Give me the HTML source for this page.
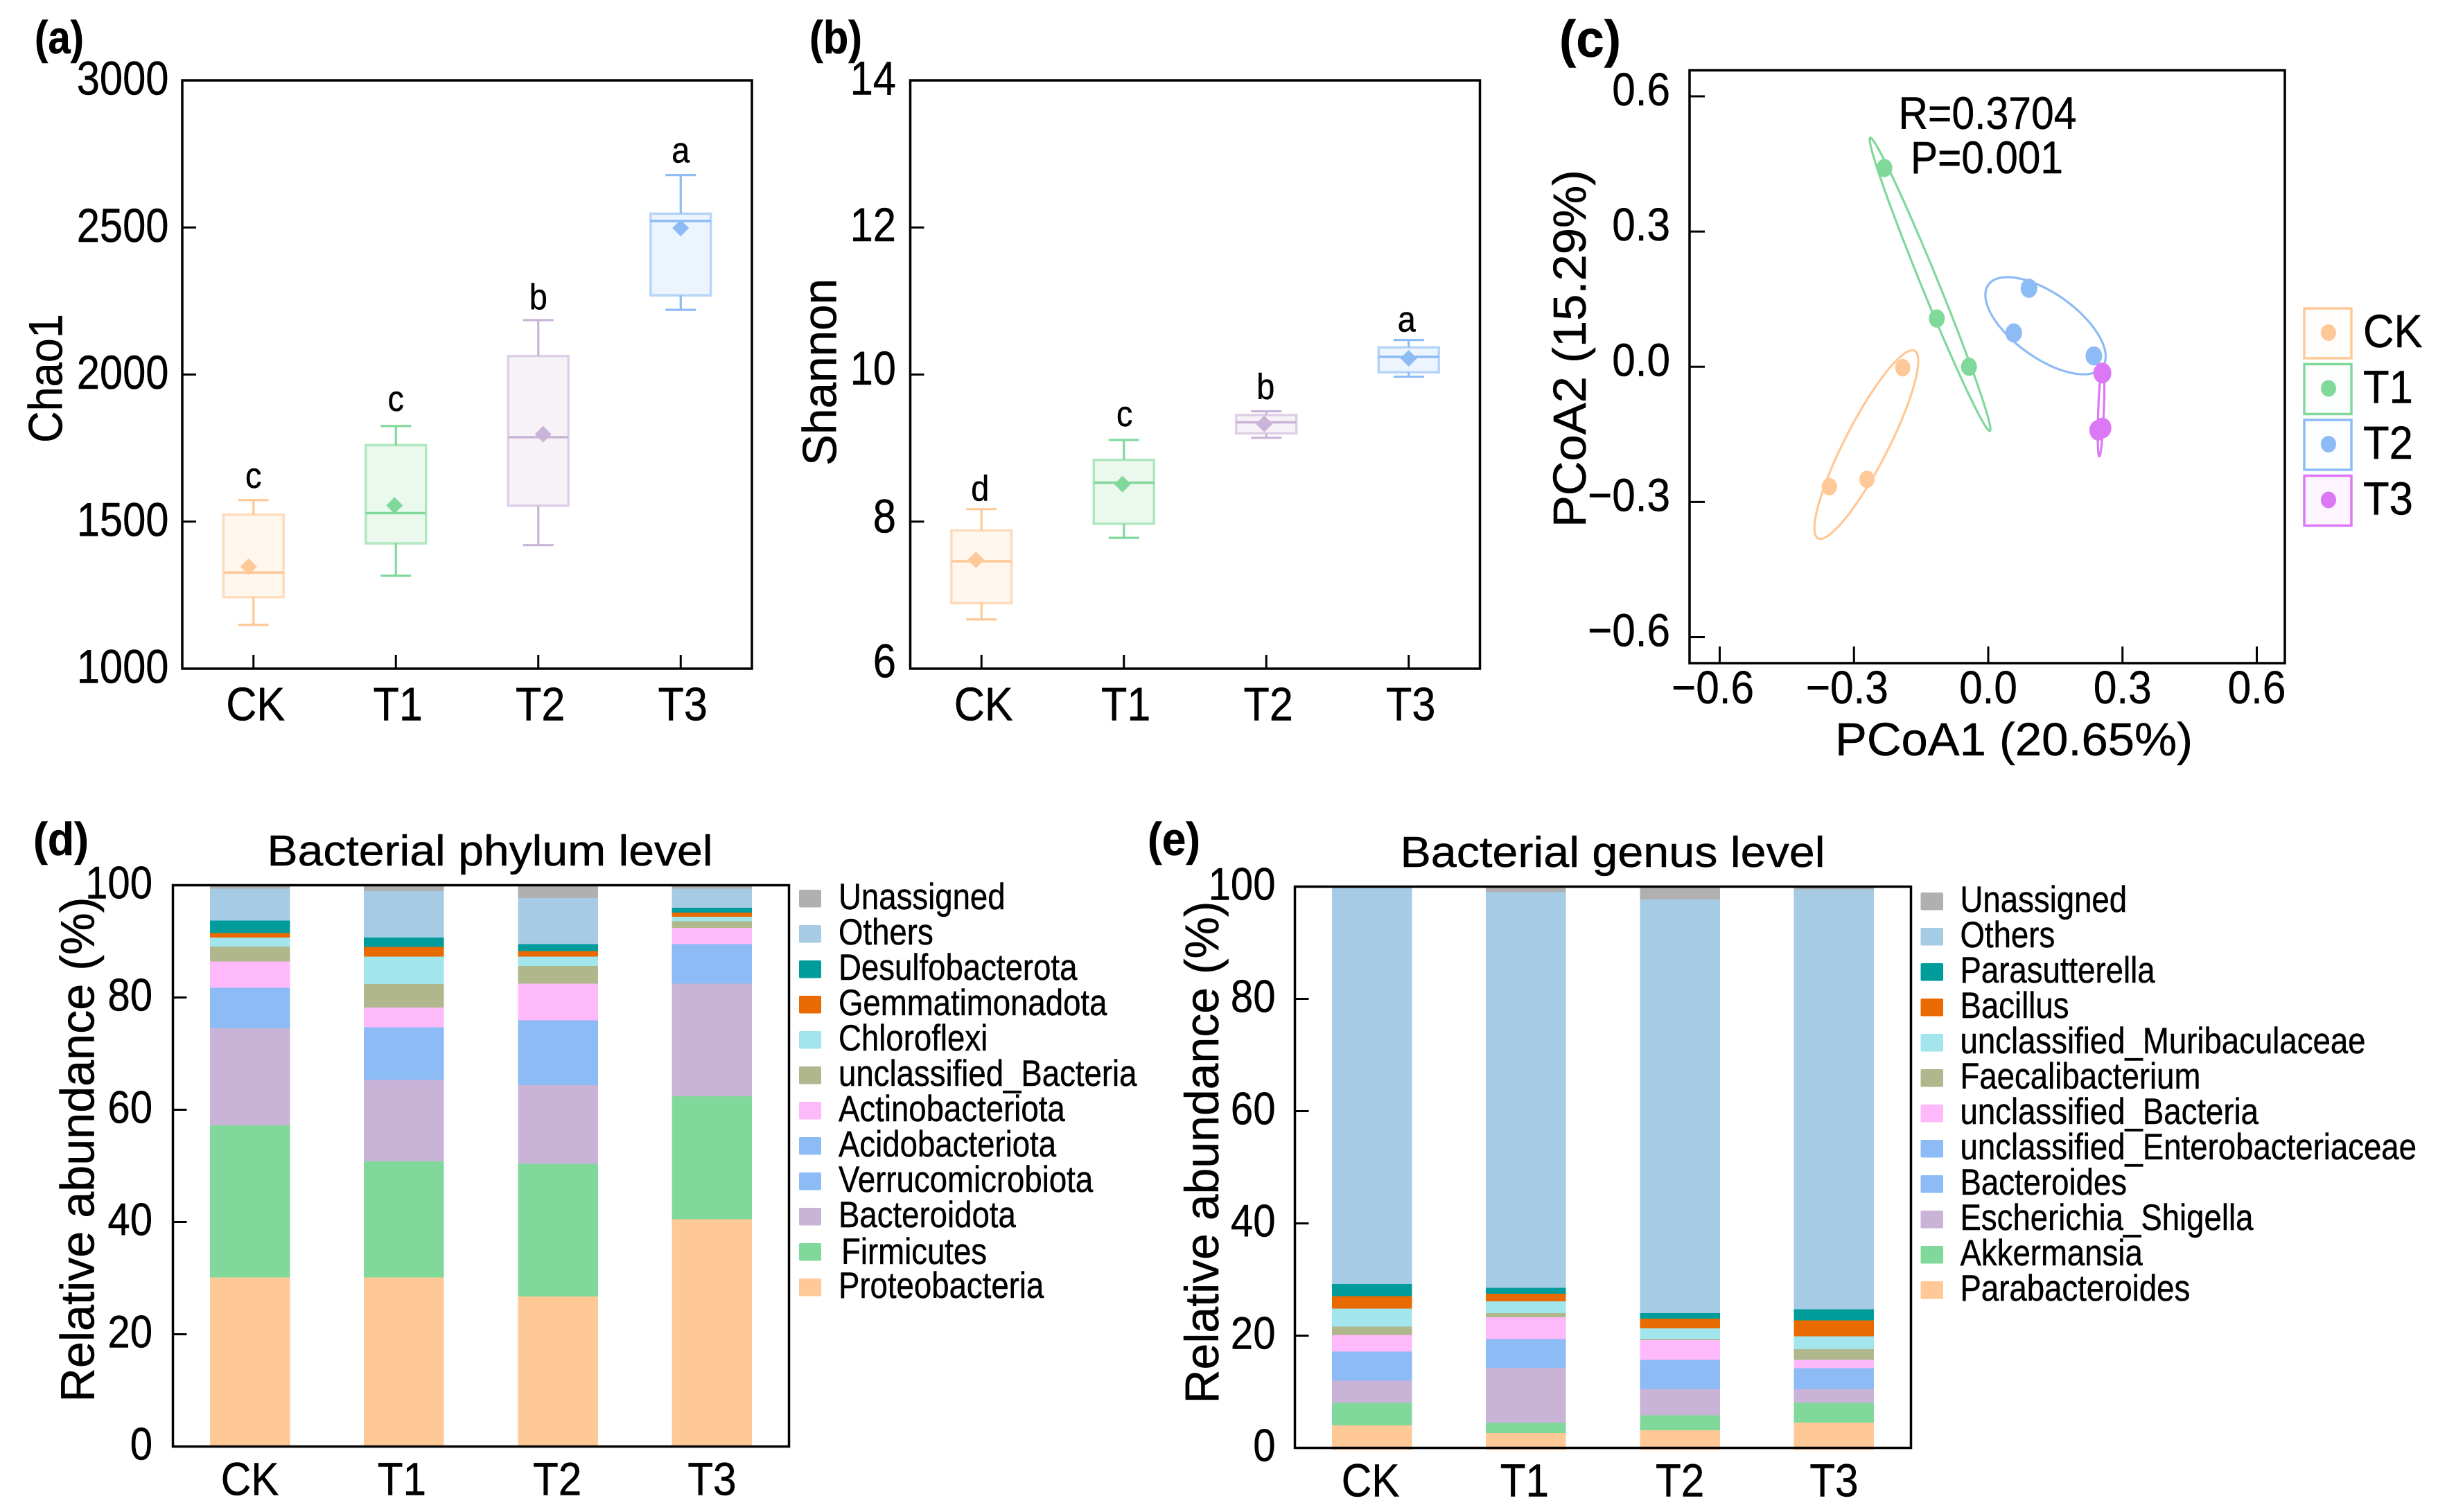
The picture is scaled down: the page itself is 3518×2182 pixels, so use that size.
<!DOCTYPE html>
<html lang="en">
<head>
<meta charset="utf-8">
<title>Bacterial diversity and community composition</title>
<style>
html,body{margin:0;padding:0;background:#fff;}
svg{display:block;}
text{font-family:"Liberation Sans",Arial,sans-serif;fill:#000;stroke:#000;stroke-width:0.5;}
.frame{fill:none;stroke:#000;stroke-width:3.5;}
</style>
</head>
<body>
<svg xmlns="http://www.w3.org/2000/svg" width="3518" height="2182" viewBox="0 0 3518 2182">
  <rect x="0" y="0" width="3518" height="2182" fill="#fff"/>

  <g>
    <g id="marks-a"></g>
    <rect class="frame" x="263" y="116" width="822" height="849"/>
    <g id="axes-a"></g>
    <text x="50" y="77" font-size="67" font-weight="bold" textLength="71" lengthAdjust="spacingAndGlyphs">(a)</text>
    <text transform="translate(89.5,546) rotate(-90)" text-anchor="middle" font-size="69" textLength="186" lengthAdjust="spacingAndGlyphs">Chao1</text>
  </g>

  <g>
    <g id="marks-b"></g>
    <rect class="frame" x="1313.5" y="116" width="822" height="849"/>
    <g id="axes-b"></g>
    <text x="1168" y="77" font-size="67" font-weight="bold" textLength="76" lengthAdjust="spacingAndGlyphs">(b)</text>
    <text transform="translate(1206.5,537) rotate(-90)" text-anchor="middle" font-size="69" textLength="270" lengthAdjust="spacingAndGlyphs">Shannon</text>
  </g>

  <g>
    <g id="marks-c"></g>
    <rect class="frame" x="2438" y="101.5" width="859" height="855.5"/>
    <g id="axes-c"></g>
    <text x="2250" y="82" font-size="75" font-weight="bold" textLength="89" lengthAdjust="spacingAndGlyphs">(c)</text>
    <text x="2868" y="186" text-anchor="middle" font-size="66" textLength="257" lengthAdjust="spacingAndGlyphs">R=0.3704</text>
    <text x="2867" y="250" text-anchor="middle" font-size="66" textLength="220" lengthAdjust="spacingAndGlyphs">P=0.001</text>
    <text x="2906" y="1090" text-anchor="middle" font-size="67" textLength="516" lengthAdjust="spacingAndGlyphs">PCoA1 (20.65%)</text>
    <text transform="translate(2288,503) rotate(-90)" text-anchor="middle" font-size="67" textLength="516" lengthAdjust="spacingAndGlyphs">PCoA2 (15.29%)</text>
    <g id="legend-c"></g>
  </g>

  <g>
    <g id="marks-d"></g>
    <rect class="frame" x="249.5" y="1277.5" width="889" height="810"/>
    <g id="axes-d"></g>
    <g id="legend-d"></g>
    <text x="48" y="1234" font-size="67" font-weight="bold" textLength="80" lengthAdjust="spacingAndGlyphs">(d)</text>
    <text x="707" y="1249" text-anchor="middle" font-size="62" textLength="643" lengthAdjust="spacingAndGlyphs">Bacterial phylum level</text>
    <text transform="translate(135.7,1659) rotate(-90)" text-anchor="middle" font-size="69" textLength="729" lengthAdjust="spacingAndGlyphs">Relative abundance (%)</text>
  </g>

  <g>
    <g id="marks-e"></g>
    <rect class="frame" x="1868.5" y="1279.5" width="889" height="810"/>
    <g id="axes-e"></g>
    <g id="legend-e"></g>
    <text x="1656" y="1234" font-size="67" font-weight="bold" textLength="76" lengthAdjust="spacingAndGlyphs">(e)</text>
    <text x="2327" y="1251" text-anchor="middle" font-size="62" textLength="613" lengthAdjust="spacingAndGlyphs">Bacterial genus level</text>
    <text transform="translate(1757.9,1663) rotate(-90)" text-anchor="middle" font-size="69" textLength="725" lengthAdjust="spacingAndGlyphs">Relative abundance (%)</text>
  </g>
</svg>

<script>
// ---------- shared categories ----------
const categories = ['CK', 'T1', 'T2', 'T3'];

// ---------- panel (a) Chao1 ----------
const chao1Ticks = [1000, 1500, 2000, 2500, 3000];
const chao1Max = [1573, 1825, 2185, 2678];
const chao1Q3 = [1524, 1760, 2063, 2547];
const chao1Median = [1327, 1529, 1787, 2522];
const chao1Q1 = [1243, 1426, 1554, 2269];
const chao1Min = [1149, 1316, 1420, 2220];
const chao1Mean = [1347, 1555, 1797, 2498];
const chao1Letters = ['c', 'c', 'b', 'a'];

// ---------- panel (b) Shannon ----------
const shannonTicks = [6, 8, 10, 12, 14];
const shannonMax = [8.17, 9.11, 9.50, 10.47];
const shannonQ3 = [7.88, 8.84, 9.45, 10.37];
const shannonMedian = [7.46, 8.53, 9.35, 10.24];
const shannonQ1 = [6.89, 7.97, 9.20, 10.03];
const shannonMin = [6.67, 7.78, 9.14, 9.97];
const shannonMean = [7.48, 8.51, 9.33, 10.22];
const shannonLetters = ['d', 'c', 'b', 'a'];

// ---------- panel (c) PCoA ----------
const pcoaTicks = [-0.6, -0.3, 0, 0.3, 0.6];
const pcoaTickLabels = ['\u22120.6', '\u22120.3', '0.0', '0.3', '0.6'];
const pcoaCKx = [-0.191, -0.271, -0.355];
const pcoaCKy = [-0.002, -0.250, -0.266];
const pcoaT1x = [-0.232, -0.115, -0.043];
const pcoaT1y = [0.441, 0.107, 0.000];
const pcoaT2x = [0.091, 0.057, 0.236];
const pcoaT2y = [0.174, 0.075, 0.024];
const pcoaT3x = [0.255, 0.255, 0.246];
const pcoaT3y = [-0.014, -0.136, -0.141];

// ---------- panel (d) phylum, listed bottom-to-top ----------
const phylumNames = ['Proteobacteria', 'Firmicutes', 'Bacteroidota', 'Verrucomicrobiota', 'Acidobacteriota', 'Actinobacteriota', 'unclassified_Bacteria', 'Chloroflexi', 'Gemmatimonadota', 'Desulfobacterota', 'Others', 'Unassigned'];
const phylumCK = [30.1, 27.1, 17.3, 4.0, 3.2, 4.7, 2.7, 1.6, 0.8, 2.2, 5.7, 0.6];
const phylumT1 = [30.1, 20.7, 14.5, 5.2, 4.2, 3.5, 4.2, 4.9, 1.7, 1.7, 8.25, 1.05];
const phylumT2 = [26.7, 23.7, 14.0, 6.5, 5.0, 6.6, 3.1, 1.7, 1.0, 1.2, 8.2, 2.3];
const phylumT3 = [40.5, 21.9, 20.1, 3.8, 3.2, 2.9, 1.2, 0.8, 0.7, 0.9, 3.4, 0.6];

// ---------- panel (e) genus, listed bottom-to-top ----------
const genusNames = ['Parabacteroides', 'Akkermansia', 'Escherichia_Shigella', 'Bacteroides', 'unclassified_Enterobacteriaceae', 'unclassified_Bacteria', 'Faecalibacterium', 'unclassified_Muribaculaceae', 'Bacillus', 'Parasutterella', 'Others', 'Unassigned'];
const genusCK = [4.0, 4.05, 3.95, 2.8, 2.35, 2.95, 1.5, 3.2, 2.25, 2.15, 70.6, 0.2];
const genusT1 = [2.66, 1.84, 9.75, 2.9, 2.25, 3.9, 0.7, 2.1, 1.4, 1.0, 70.5, 1.0];
const genusT2 = [3.14, 2.66, 4.7, 2.9, 2.3, 3.5, 0.2, 1.9, 1.7, 1.0, 73.7, 2.3];
const genusT3 = [4.5, 3.55, 2.45, 2.0, 1.7, 1.5, 1.9, 2.3, 2.8, 2.0, 74.8, 0.5];
const abundanceTicks = [0, 20, 40, 60, 80, 100];

// ---------- styling ----------
const groupColors = ['#FEC897', '#81D89B', '#C9B4D8', '#8CBBF5'];
const pcoaColors = ['#FEC897', '#81D89B', '#8CBBF5', '#DC78F5'];
const stackColors = ['#FEC897', '#81D89B', '#C9B4D8', '#8CBBF5', '#8CBBF5', '#FDB9F9', '#B0B78D', '#A2E5EC', '#E86A00', '#009C9C', '#A5CBE5', '#B0B0B0'];

const NS = 'http://www.w3.org/2000/svg';
function mk(tag, attrs, parent) {
  const node = document.createElementNS(NS, tag);
  for (const key in attrs) node.setAttribute(key, attrs[key]);
  parent.appendChild(node);
  return node;
}
function txt(parent, x, y, str, size, anchor, sx) {
  const node = mk('text', {
    transform: 'translate(' + x + ',' + y + ') scale(' + sx + ',1)',
    'text-anchor': anchor,
    'font-size': size
  }, parent);
  node.textContent = str;
  return node;
}
function linear(d0, d1, r0, r1) {
  return function (v) { return r0 + (v - d0) / (d1 - d0) * (r1 - r0); };
}
const $ = function (id) { return document.getElementById(id); };

// ---------- box plots ----------
function drawBoxPanel(cfg) {
  const marks = $(cfg.marks);
  const axes = $(cfg.axes);
  const y = linear(cfg.ticks[0], cfg.ticks[cfg.ticks.length - 1], cfg.bottom, cfg.top);
  const x = function (i) { return cfg.left + (i + 0.5) * (cfg.right - cfg.left) / categories.length; };
  const boxW = 87, capW = 44;

  cfg.ticks.forEach(function (t, i) {
    const tick = mk('line', { x1: cfg.left, x2: cfg.left + 20, y1: y(t), y2: y(t), stroke: '#000', 'stroke-width': 3 }, axes);
    
    
    const lab = txt(axes, cfg.labelRight, y(t) + 20.5 + cfg.labelNudge[i], String(t), 69, 'end', cfg.labelScale);
    
    
  });

  categories.forEach(function (cat, i) {
    const cx = x(i);
    const color = groupColors[i];
    const tick = mk('line', { x1: cx, x2: cx, y1: cfg.bottom, y2: cfg.bottom - 20, stroke: '#000', 'stroke-width': 3 }, axes);
    
    
    const lab = txt(axes, cx + 3, 1039.5, cat, 68, 'middle', 0.9);
    
    

    const box = mk('g', {}, marks);
    
    
    const whisk = { stroke: color, 'stroke-width': 3.2, fill: 'none' };
    [[cx, cx, y(cfg.max[i]), y(cfg.q3[i])], [cx, cx, y(cfg.q1[i]), y(cfg.min[i])],
     [cx - capW / 2, cx + capW / 2, y(cfg.max[i]), y(cfg.max[i])],
     [cx - capW / 2, cx + capW / 2, y(cfg.min[i]), y(cfg.min[i])]].forEach(function (p) {
      const whisker = mk('line', Object.assign({ x1: p[0], x2: p[1], y1: p[2], y2: p[3] }, whisk), box);
      
      
    });
    const rect = mk('rect', {
      x: cx - boxW / 2, y: y(cfg.q3[i]), width: boxW, height: y(cfg.q1[i]) - y(cfg.q3[i]),
      fill: color, 'fill-opacity': 0.17, stroke: color, 'stroke-opacity': 0.6, 'stroke-width': 3.5
    }, box);
    
    
    const med = mk('line', { x1: cx - boxW / 2, x2: cx + boxW / 2, y1: y(cfg.median[i]), y2: y(cfg.median[i]), stroke: color, 'stroke-width': 3.5 }, box);
    
    
    const mx = cx + cfg.meanNudge[i], my = y(cfg.mean[i]), d = 12;
    const diamond = mk('polygon', { points: [mx, my - d, mx + d, my, mx, my + d, mx - d, my].join(' '), fill: color }, box);
    
    
    const letter = txt(marks, cx + cfg.letterNudge[i], y(cfg.max[i]) - cfg.letterGap[i], cfg.letters[i], 52, 'middle', 0.9);
    
    
  });
}

drawBoxPanel({
  marks: 'marks-a', axes: 'axes-a', left: 263, right: 1085, top: 116, bottom: 965, labelRight: 243.5,
  labelNudge: [0, 0, 0, 0, 0], labelScale: 0.865,
  ticks: chao1Ticks, max: chao1Max, q3: chao1Q3, median: chao1Median, q1: chao1Q1, min: chao1Min, mean: chao1Mean,
  letters: chao1Letters, meanNudge: [-7, -2, 7, 0], letterNudge: [0, 0, 0, 0], letterGap: [18, 22, 16, 18]
});
drawBoxPanel({
  marks: 'marks-b', axes: 'axes-b', left: 1313.5, right: 2135.5, top: 116, bottom: 965, labelRight: 1293,
  labelNudge: [-8, -5, -6, -1, 0], labelScale: 0.865,
  ticks: shannonTicks, max: shannonMax, q3: shannonQ3, median: shannonMedian, q1: shannonQ1, min: shannonMin, mean: shannonMean,
  letters: shannonLetters, meanNudge: [-8, -2, -3, 0], letterNudge: [-2, 1, -1, -3], letterGap: [12, 20, 18, 12]
});

// ---------- PCoA ----------
(function () {
  const marks = $('marks-c');
  const axes = $('axes-c');
  const legend = $('legend-c');
  const X = linear(-0.6, 0.6, 2481.5, 3256.5);
  const Y = linear(-0.6, 0.6, 919.5, 139);
  const groups = [[pcoaCKx, pcoaCKy, 'CK'], [pcoaT1x, pcoaT1y, 'T1'], [pcoaT2x, pcoaT2y, 'T2'], [pcoaT3x, pcoaT3y, 'T3']];
  const dotR = [11, 11.5, 12, 13];
  const ellipseScale = Math.SQRT2;

  pcoaTicks.forEach(function (t, i) {
    const yt = mk('line', { x1: 2438, x2: 2460, y1: Y(t), y2: Y(t), stroke: '#000', 'stroke-width': 3 }, axes);
    
    
    const xt = mk('line', { x1: X(t), x2: X(t), y1: 957, y2: 933, stroke: '#000', 'stroke-width': 3 }, axes);
    
    
    const yl = txt(axes, 2410, Y(t) + 13, pcoaTickLabels[i], 67, 'end', 0.9);
    
    
    const xl = txt(axes, X(t) + (t < 0 ? -10 : 0), 1015, pcoaTickLabels[i], 67, 'middle', 0.9);
    
    
  });

  groups.forEach(function (g, gi) {
    const xs = g[0], ys = g[1], name = g[2], color = pcoaColors[gi];
    const n = xs.length;
    const mx = xs.reduce(function (a, b) { return a + b; }, 0) / n;
    const my = ys.reduce(function (a, b) { return a + b; }, 0) / n;
    let sxx = 0, syy = 0, sxy = 0;
    xs.forEach(function (v, i) {
      sxx += (v - mx) * (v - mx);
      syy += (ys[i] - my) * (ys[i] - my);
      sxy += (v - mx) * (ys[i] - my);
    });
    sxx /= (n - 1); syy /= (n - 1); sxy /= (n - 1);
    const root = Math.sqrt((sxx - syy) * (sxx - syy) + 4 * sxy * sxy);
    const l1 = Math.max(0, (sxx + syy + root) / 2);
    const l2 = Math.max(0, (sxx + syy - root) / 2);
    const th = 0.5 * Math.atan2(2 * sxy, sxx - syy);
    const a = Math.sqrt(l1) * ellipseScale, b = Math.sqrt(l2) * ellipseScale;
    let d = '';
    for (let k = 0; k <= 120; k++) {
      const t = k / 120 * 2 * Math.PI;
      const ex = mx + a * Math.cos(t) * Math.cos(th) - b * Math.sin(t) * Math.sin(th);
      const ey = my + a * Math.cos(t) * Math.sin(th) + b * Math.sin(t) * Math.cos(th);
      d += (k ? 'L' : 'M') + X(ex).toFixed(1) + ' ' + Y(ey).toFixed(1);
    }
    const ell = mk('path', { d: d + 'Z', fill: 'none', stroke: color, 'stroke-width': 3.2 }, marks);
    
    
    xs.forEach(function (v, i) {
      const dot = mk('ellipse', { cx: X(v), cy: Y(ys[i]), rx: dotR[gi], ry: dotR[gi] * 1.15, fill: color }, marks);
      
      
    });

    // legend
    const top = 445 + gi * 80.5;
    const swatch = mk('rect', { x: 3325, y: top, width: 68, height: 72, fill: color, 'fill-opacity': gi === 3 ? 0.08 : 0.03, stroke: color, 'stroke-width': 3.5 }, legend);
    
    
    const ldot = mk('ellipse', { cx: 3360, cy: top + 35, rx: 11, ry: 12, fill: color }, legend);
    
    
    const ltext = txt(legend, 3410, top + 56, name, 67, 'start', 0.92);
    
    
  });
})();

// ---------- stacked bars ----------
function drawStack(cfg) {
  const marks = $(cfg.marks);
  const axes = $(cfg.axes);
  const legend = $(cfg.legend);
  const y = linear(0, 100, cfg.bottom, cfg.top);
  const slot = (cfg.right - cfg.left) / categories.length;
  const barW = 115.5;

  abundanceTicks.forEach(function (t) {
    const tick = mk('line', { x1: cfg.left, x2: cfg.left + 20, y1: y(t), y2: y(t), stroke: '#000', 'stroke-width': 3 }, axes);
    
    
    const lab = txt(axes, cfg.labelRight, y(t) + 19, String(t), 66, 'end', 0.88);
    
    
  });

  categories.forEach(function (cat, ci) {
    const cx = cfg.left + (ci + 0.5) * slot;
    const values = cfg.series[ci];
    let cum = 0;
    values.forEach(function (v, si) {
      const y0 = y(cum), y1 = y(cum + v);
      const extra = si === 0 ? cfg.overhang : 0;
      const bar = mk('rect', { x: cx - barW / 2, y: y1, width: barW, height: y0 - y1 + extra, fill: stackColors[si], 'shape-rendering': 'crispEdges' }, marks);
      
      
      cum += v;
    });
    const lab = txt(axes, cx + cfg.xLabelNudge[ci], cfg.xLabelY, cat, 67, 'middle', 0.9);
    
    
  });

  const count = cfg.names.length;
  for (let row = 0; row < count; row++) {
    const si = count - 1 - row;
    const swatch = mk('rect', { x: cfg.swatchX, y: cfg.legendTop + row * 51, width: cfg.swatchW, height: 25.5, rx: 2, fill: stackColors[si] }, legend);
    
    
    const isNudged = cfg.names[si] === cfg.nudgedName;
    const label = txt(legend, cfg.legendTextX + (isNudged ? 4 : 0), cfg.legendTop + row * 51 + 28 + (isNudged ? 2 : 0), cfg.names[si], 53, 'start', 0.86);
    
    
  }
}

drawStack({
  marks: 'marks-d', axes: 'axes-d', legend: 'legend-d', left: 249.5, right: 1138.5, top: 1277.5, bottom: 2087.5,
  names: phylumNames, series: [phylumCK, phylumT1, phylumT2, phylumT3], overhang: 0,
  labelRight: 220, xLabelY: 2157.5, xLabelNudge: [0, -3, -1, 0], nudgedName: 'Firmicutes',
  swatchX: 1153, swatchW: 32, legendTop: 1284, legendTextX: 1210
});
drawStack({
  marks: 'marks-e', axes: 'axes-e', legend: 'legend-e', left: 1868.5, right: 2757.5, top: 1279.5, bottom: 2089.5,
  names: genusNames, series: [genusCK, genusT1, genusT2, genusT3], overhang: 3,
  labelRight: 1840.5, xLabelY: 2159.5, xLabelNudge: [-2, -2, 0, 0], nudgedName: '',
  swatchX: 2771.5, swatchW: 32.5, legendTop: 1288, legendTextX: 2828.5
});
</script>
</body>
</html>
